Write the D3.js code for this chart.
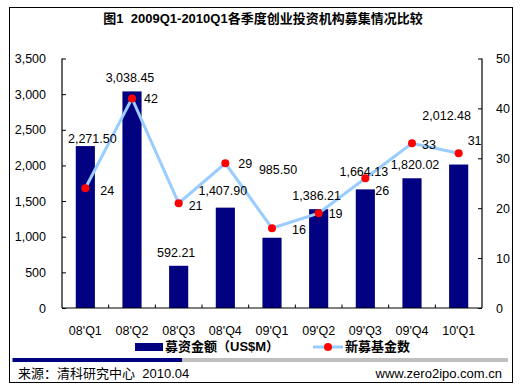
<!DOCTYPE html>
<html><head><meta charset="utf-8">
<script src="https://cdn.jsdelivr.net/npm/d3@7"></script>
<style>
html,body{margin:0;padding:0;background:#fff;}
text{font-family:"Liberation Sans",Arial,"Noto Sans CJK SC",sans-serif;white-space:pre;}
</style></head>
<body><svg id="c" width="520" height="389"></svg>
<script>
// ---- data ----
const categories = ["08'Q1","08'Q2","08'Q3","08'Q4","09'Q1","09'Q2","09'Q3","09'Q4","10'Q1"];
const fundAmount = [2271.50, 3038.45, 592.21, 1407.90, 985.50, 1386.21, 1664.13, 1820.02, 2012.48];
const fundCount = [24, 42, 21, 29, 16, 19, 26, 33, 31];
const leftTicks = [0, 500, 1000, 1500, 2000, 2500, 3000, 3500];
const rightTicks = [0, 10, 20, 30, 40, 50];
const titleText = "图1  2009Q1-2010Q1各季度创业投资机构募集情况比较";
const seriesNames = ["募资金额（US$M）", "新募基金数"];
const sourceText = "来源：清科研究中心  2010.04";
const siteText = "www.zero2ipo.com.cn";

// ---- layout (manual label placement as in the original) ----
const barLabelNudge = [[7,-3],[-2,-9],[-2.5,-9],[-2.5,-13],[6,-64],[-2,-9],[-1.5,-13],[3,-9],[-12,-45]];
const countLabelNudge = [[15,7],[12,5],[10,7],[13,5],[20,6],[10,5],[10,17],[10,6],[9,-8]];

const svg = d3.select("#c");
const L = 62, R = 482, T = 58.5, B = 308;
const navy = "#000080", lineCol = "#99CCFF", red = "#FF0000";

svg.append("rect").attr("x",9.5).attr("y",7.5).attr("width",503).attr("height",375)
  .attr("fill","#fff").attr("stroke","#000").attr("stroke-width",1);

svg.append("text").attr("x",263).attr("y",23).attr("text-anchor","middle")
  .attr("font-size",13).attr("font-weight","bold").attr("fill","#000").text(titleText);

const x = d3.scaleBand().domain(categories).range([L,R]).paddingInner(0).paddingOuter(0);
const yL = d3.scaleLinear().domain([0,3500]).range([B,T]);
const yR = d3.scaleLinear().domain([0,50]).range([B,T]);
const bw = x.bandwidth()*0.41;

// bars
svg.append("g").selectAll("rect").data(fundAmount).join("rect")
  .attr("x",(d,i)=>x(categories[i])+x.bandwidth()/2-bw/2)
  .attr("y",d=>yL(d)).attr("width",bw).attr("height",d=>B-yL(d)).attr("fill",navy);

// axes
const gl = svg.append("g").attr("transform",`translate(${L},0)`)
  .call(d3.axisLeft(yL).tickValues(leftTicks).tickSize(-4).tickPadding(16).tickFormat(d3.format(",")));
const gr = svg.append("g").attr("transform",`translate(${R},0)`)
  .call(d3.axisRight(yR).tickValues(rightTicks).tickSize(-4).tickPadding(14));
const gb = svg.append("g").attr("transform",`translate(0,${B})`)
  .call(d3.axisBottom(x).tickSize(0).tickPadding(18));
[gl,gr,gb].forEach(g=>{
  g.select(".domain").attr("stroke","#000").attr("stroke-width",1.2);
  g.selectAll(".tick line").attr("stroke","#000");
  g.selectAll("text").attr("font-size",12.5).attr("fill","#000")
    .attr("font-family",'"Liberation Sans",Arial,sans-serif');
});
gl.select(".domain").attr("d",`M0,${T}V${B}`);
gr.select(".domain").attr("d",`M0,${T}V${B}`);
gb.select(".domain").attr("d",`M${L},0H${R}`);
// category boundary ticks on the x axis
svg.append("g").selectAll("line").data(categories.slice(1)).join("line")
  .attr("x1",d=>x(d)).attr("x2",d=>x(d)).attr("y1",B).attr("y2",B-3.5)
  .attr("stroke","#000");

// line
const cx = (d,i)=>x(categories[i])+x.bandwidth()/2;
svg.append("path").datum(fundCount)
  .attr("d",d3.line().x(cx).y(d=>yR(d)))
  .attr("fill","none").attr("stroke",lineCol).attr("stroke-width",3);
svg.append("g").selectAll("circle").data(fundCount).join("circle")
  .attr("cx",cx).attr("cy",d=>yR(d)).attr("r",4).attr("fill",red);

// labels
const fmt = d3.format(",.2f");
svg.append("g").selectAll("text").data(fundAmount).join("text")
  .attr("x",(d,i)=>cx(d,i)+barLabelNudge[i][0])
  .attr("y",(d,i)=>yL(d)+barLabelNudge[i][1])
  .attr("text-anchor","middle").attr("font-size",12.5).attr("fill","#000").text(d=>fmt(d));
svg.append("g").selectAll("text").data(fundCount).join("text")
  .attr("x",(d,i)=>cx(d,i)+countLabelNudge[i][0])
  .attr("y",(d,i)=>yR(d)+countLabelNudge[i][1])
  .attr("font-size",12.5).attr("fill","#000").text(d=>d);

// legend
svg.append("rect").attr("x",135).attr("y",343).attr("width",28).attr("height",8).attr("fill",navy);
svg.append("text").attr("x",165).attr("y",351).attr("font-size",13).attr("font-weight","bold")
  .attr("fill","#000").text(seriesNames[0]);
svg.append("line").attr("x1",313).attr("x2",343).attr("y1",347).attr("y2",347)
  .attr("stroke",lineCol).attr("stroke-width",3);
svg.append("circle").attr("cx",328).attr("cy",347).attr("r",4).attr("fill",red);
svg.append("text").attr("x",345).attr("y",351).attr("font-size",13).attr("font-weight","bold")
  .attr("fill","#000").text(seriesNames[1]);

// footer
svg.append("rect").attr("x",12.5).attr("y",358).attr("width",169.5).attr("height",4).attr("fill",navy);
svg.append("rect").attr("x",182).attr("y",358).attr("width",326).attr("height",4).attr("fill","#C0C0C0");
svg.append("text").attr("x",18).attr("y",378).attr("font-size",13).attr("fill","#000").text(sourceText);
svg.append("text").attr("x",502).attr("y",378).attr("text-anchor","end").attr("font-size",13)
  .attr("fill","#000").text(siteText);
</script></body></html>
